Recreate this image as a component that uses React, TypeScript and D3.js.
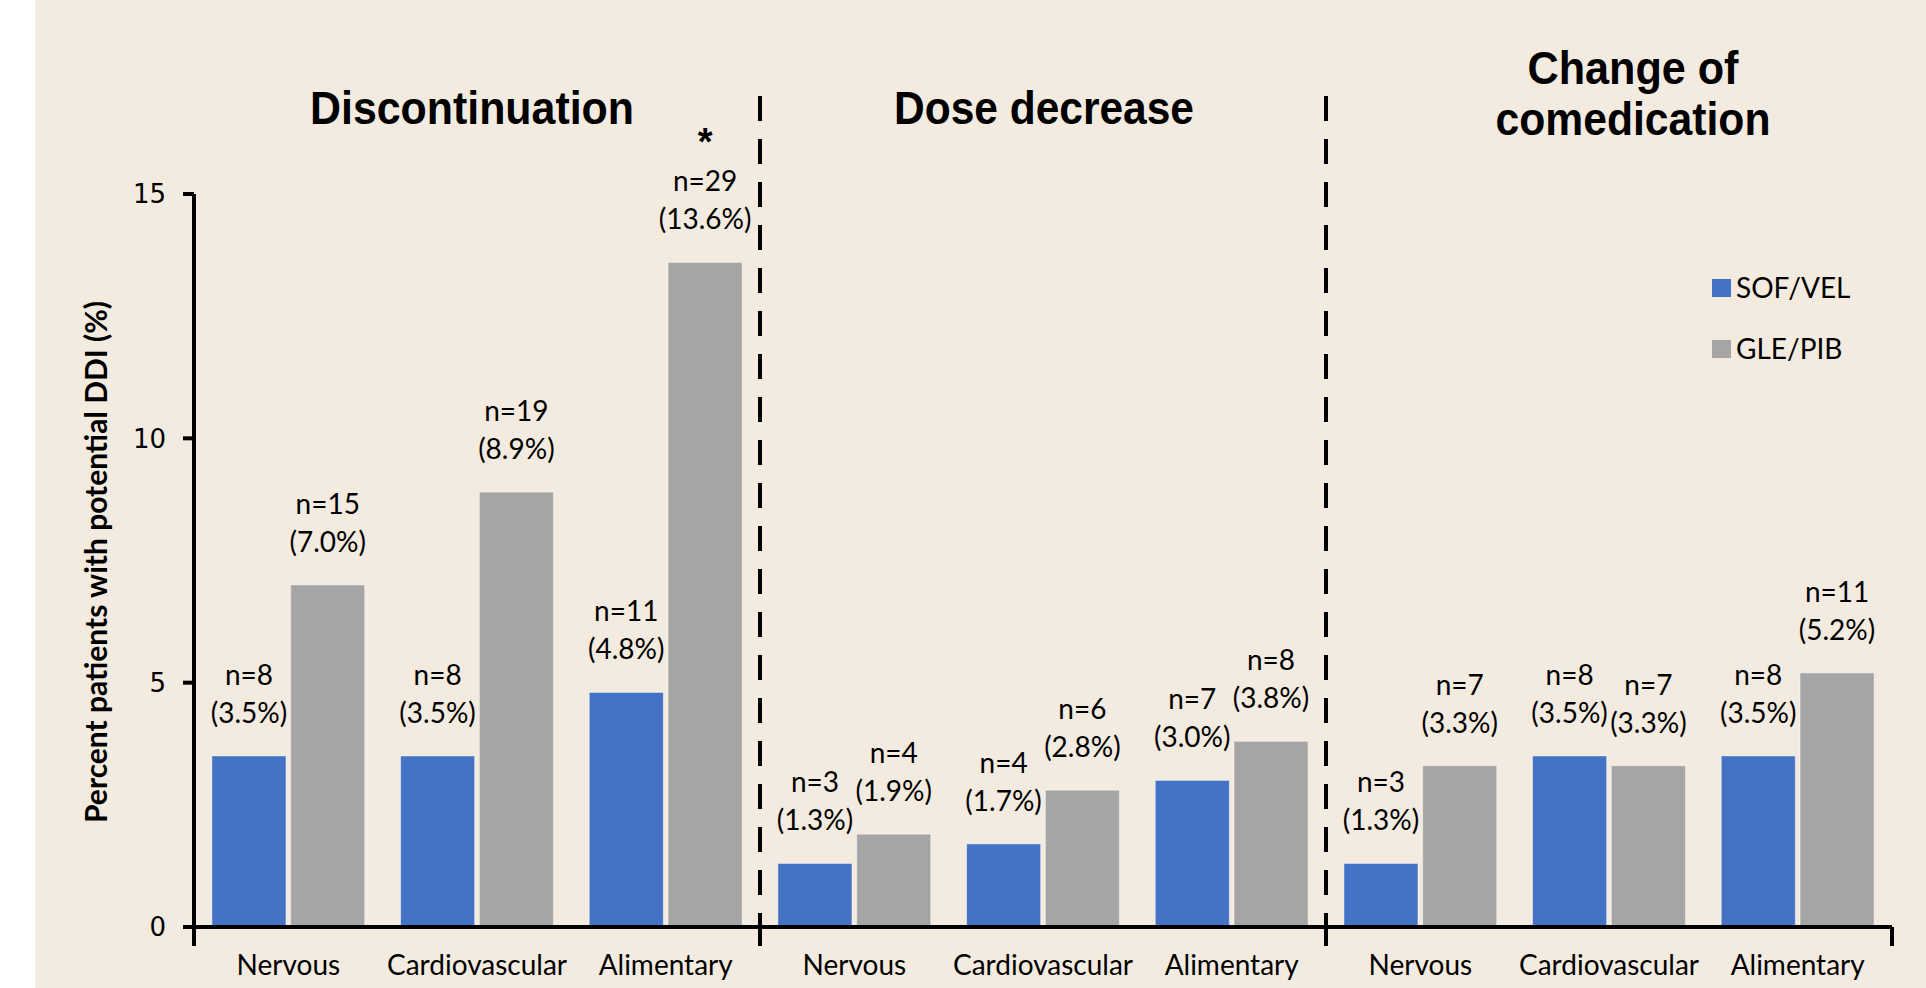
import React from "react";
import * as d3 from "d3";

const sectionTitles = [["Discontinuation"], ["Dose decrease"], ["Change of", "comedication"]];
const categories = ["Nervous", "Cardiovascular", "Alimentary"];
const seriesNames = ["SOF/VEL", "GLE/PIB"];
const seriesColors = ["#4472C4", "#A5A5A5"];

// section-major order: Discontinuation (N, C, A), Dose decrease (N, C, A), Change (N, C, A)
const sofVelPercent = [3.5, 3.5, 4.8, 1.3, 1.7, 3.0, 1.3, 3.5, 3.5];
const glePibPercent = [7.0, 8.9, 13.6, 1.9, 2.8, 3.8, 3.3, 3.3, 5.2];
const sofVelN = [8, 8, 11, 3, 4, 7, 3, 8, 8];
const glePibN = [15, 19, 29, 4, 6, 8, 7, 7, 11];
const glePibSignificant = [false, false, true, false, false, false, false, false, false];
const yTicks = [0, 5, 10, 15];

const W = 1926;
const H = 988;
const left = 194;
const right = 1892;
const bottom = 927;
const top = 194;

// layout for titles (width and centre shift per line)
const titleWidths = [[324], [300], [211, 275]];
const titleShift = [-5, 1, 24];

const labelFont = "Lato, 'Noto Sans', sans-serif";
const titleFont = "'Liberation Sans Narrow', 'Liberation Sans', Arial, sans-serif";

export default function App() {
  const y = d3.scaleLinear().domain([0, 15]).range([bottom, top]);
  const xSection = d3.scaleBand<number>().domain([0, 1, 2]).range([left, right]).padding(0);
  const xCat = d3
    .scaleBand<string>()
    .domain(categories)
    .range([0, xSection.bandwidth()])
    .paddingInner(0.19)
    .paddingOuter(0.095);
  const xSeries = d3.scaleBand<string>().domain(seriesNames).range([0, xCat.bandwidth()]).paddingInner(0.06);

  const series = [
    { name: seriesNames[0], pct: sofVelPercent, n: sofVelN, sig: sofVelPercent.map(() => false) },
    { name: seriesNames[1], pct: glePibPercent, n: glePibN, sig: glePibSignificant },
  ];

  const bars: any[] = [];
  [0, 1, 2].forEach((s) => {
    categories.forEach((c, ci) => {
      const idx = s * 3 + ci;
      series.forEach((ser, si) => {
        const x0 = (xSection(s) as number) + (xCat(c) as number) + (xSeries(ser.name) as number);
        bars.push({
          key: `${s}-${ci}-${si}`,
          x: x0,
          w: xSeries.bandwidth(),
          v: ser.pct[idx],
          n: ser.n[idx],
          sig: ser.sig[idx],
          color: seriesColors[si],
        });
      });
    });
  });

  const dividers = [1, 2].map((s) => xSection(s) as number);
  const xTicks = [left, ...dividers, right];

  return (
    <svg
      width={W}
      height={H}
      style={{ position: "absolute", left: 0, top: 0, display: "block" }}
      xmlns="http://www.w3.org/2000/svg"
    >
      <rect x={0} y={0} width={W} height={H} fill="#ffffff" />
      <rect x={35} y={0} width={W - 35} height={H} fill="#F3EBDF" />

      {/* bars */}
      {bars.map((b) => (
        <rect
          key={b.key}
          x={b.x}
          y={y(b.v)}
          width={b.w}
          height={bottom - y(b.v)}
          fill={b.color}
          stroke="#ffffff"
          strokeOpacity={0.45}
          strokeWidth={1}
        />
      ))}

      {/* value labels */}
      {bars.map((b) => {
        const cx = b.x + b.w / 2;
        const base = y(b.v) - 33;
        return (
          <g key={"l" + b.key} fontFamily={labelFont} fontSize={28} fill="#000" textAnchor="middle">
            <text x={cx} y={base - 38}>{`n=${b.n}`}</text>
            <text x={cx} y={base}>{`(${b.v.toFixed(1)}%)`}</text>
            {b.sig && (
              <text x={cx} y={base - 74} fontSize={38} fontWeight="bold" fontFamily="'Liberation Sans', Arial, sans-serif">
                *
              </text>
            )}
          </g>
        );
      })}

      {/* dividers */}
      {dividers.map((d, i) => (
        <line key={"d" + i} x1={d} x2={d} y1={96} y2={946} stroke="#000" strokeWidth={4} strokeDasharray="25 18" />
      ))}

      {/* y axis */}
      <line x1={left} x2={left} y1={top} y2={946} stroke="#000" strokeWidth={4} />
      {yTicks.map((t) => (
        <g key={"yt" + t}>
          <line x1={left - 11} x2={left} y1={y(t)} y2={y(t)} stroke="#000" strokeWidth={4} />
          <text
            x={166}
            y={y(t)}
            dy="0.36em"
            textAnchor="end"
            fontFamily="'DejaVu Sans', sans-serif"
            fontSize={26}
            fill="#000"
          >
            {t}
          </text>
        </g>
      ))}
      <text
        transform={`translate(96, 562) rotate(-90)`}
        textAnchor="middle"
        dy="0.35em"
        fontFamily={labelFont}
        fontWeight="bold"
        fontSize={30}
        textLength={522}
        lengthAdjust="spacingAndGlyphs"
        fill="#000"
      >
        Percent patients with potential DDI (%)
      </text>

      {/* x axis */}
      <line x1={left - 2} x2={right} y1={bottom} y2={bottom} stroke="#000" strokeWidth={4} />
      {xTicks.map((t, i) => (
        <line key={"xt" + i} x1={t} x2={t} y1={bottom} y2={946} stroke="#000" strokeWidth={4} />
      ))}
      {[0, 1, 2].map((s) =>
        categories.map((c) => (
          <text
            key={`cl${s}${c}`}
            x={(xSection(s) as number) + (xCat(c) as number) + xCat.bandwidth() / 2}
            y={975}
            textAnchor="middle"
            fontFamily={labelFont}
            fontSize={28}
            fill="#000"
          >
            {c}
          </text>
        ))
      )}

      {/* section titles */}
      {sectionTitles.map((lines, s) => {
        const cx = (xSection(s) as number) + xSection.bandwidth() / 2 + titleShift[s];
        const baselines = lines.length === 1 ? [124] : [84, 135];
        return lines.map((ln, li) => (
          <text
            key={`t${s}${li}`}
            x={cx - titleWidths[s][li] / 2}
            y={baselines[li]}
            textLength={titleWidths[s][li]}
            lengthAdjust="spacingAndGlyphs"
            fontFamily={titleFont}
            fontWeight="bold"
            fontSize={46}
            fill="#000"
          >
            {ln}
          </text>
        ));
      })}

      {/* legend */}
      {seriesNames.map((nm, i) => (
        <g key={"lg" + i}>
          <rect x={1712} y={279 + i * 61} width={19} height={18} fill={seriesColors[i]} />
          <text x={1736} y={298 + i * 61} fontFamily={labelFont} fontSize={28} fill="#000">
            {nm}
          </text>
        </g>
      ))}
    </svg>
  );
}
